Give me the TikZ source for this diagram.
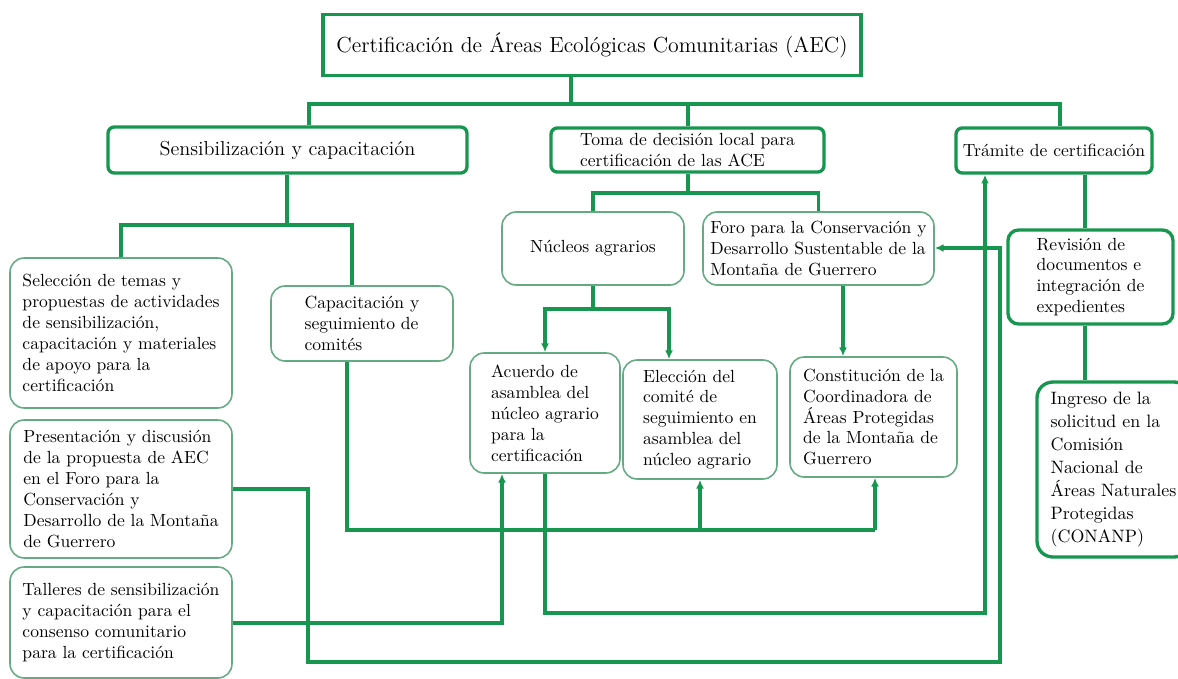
\documentclass[tikz,border=0pt]{standalone}
\usepackage{tikz}
\usetikzlibrary{calc}
\usetikzlibrary{arrows.meta}

\definecolor{lgreen}{RGB}{22,150,78}
\definecolor{bgreen}{RGB}{100,170,130}

\tikzset{
  txt/.style={align=left, inner sep=0pt, font=\fontsize{10}{11.9}\selectfont},
  hdr/.style={txt, draw=lgreen, line width=1.9pt, rounded corners=3.5pt},
  box/.style={txt, draw=bgreen, line width=0.9pt, rounded corners=8pt},
  ln/.style={draw=lgreen, line width=1.8pt},
}

\begin{document}
\begin{tikzpicture}[x=0.02cm, y=-0.02cm, >={Latex[length=5pt,width=4.5pt]}]
  \useasboundingbox (0,0) rectangle (1178,679);

  % top level
  \node [txt, draw=lgreen, line width=2pt, minimum width=10.76cm, minimum height=1.22cm,
         font=\fontsize{12.4}{14}\selectfont] (title) at (592,45)
        {Certificación de Áreas Ecológicas Comunitarias (AEC)};
  \node [hdr, minimum width=7.18cm, minimum height=0.92cm, font=\fontsize{11.5}{13}\selectfont] (sens) at (287.5,150)
        {Sensibilización y capacitación};
  \node [hdr, minimum width=5.46cm, minimum height=0.88cm] (toma) at (687.5,150)
        {Toma de decisión local para\\ certificación de las ACE};
  \node [hdr, minimum width=3.92cm, minimum height=0.9cm] (tram) at (1054,150.5) {Trámite de certificación};

  % sensibilizacion
  \node [box, minimum width=4.44cm, minimum height=3.0cm] (sel) at (121,333)
        {Selección de temas y\\ propuestas de actividades\\ de sensibilización,\\ capacitación y materiales\\ de apoyo para la\\ certificación};
  \node [box, minimum width=3.64cm, minimum height=1.5cm] (capa) at (362,323.5)
        {Capacitación y\\ seguimiento de\\ comités};
  \node [box, minimum width=4.44cm, minimum height=2.76cm] (pres) at (121,489)
        {Presentación y discusión\\ de la propuesta de AEC\\ en el Foro para la\\ Conservación y\\ Desarrollo de la Montaña\\ de Guerrero};
  \node [box, minimum width=4.44cm, minimum height=2.22cm] (tall) at (121,622.5)
        {Talleres de sensibilización\\ y capacitación para el\\ consenso comunitario\\ para la certificación};

  % toma de decision
  \node [box, minimum width=3.64cm, minimum height=1.46cm] (nuc) at (593,248.5) {Núcleos agrarios};
  \node [box, minimum width=4.62cm, minimum height=1.46cm] (foro) at (818.5,248.5)
        {Foro para la Conservación y\\ Desarrollo Sustentable de la\\ Montaña de Guerrero};
  \node [box, minimum width=3.0cm, minimum height=2.4cm] (acu) at (545,413)
        {Acuerdo de\\ asamblea del\\ núcleo agrario\\ para la\\ certificación};
  \node [box, minimum width=3.08cm, minimum height=2.38cm] (ele) at (700,419.5)
        {Elección del\\ comité de\\ seguimiento en\\ asamblea del\\ núcleo agrario};
  \node [box, minimum width=3.34cm, minimum height=2.4cm] (cons) at (873.5,417)
        {Constitución de la\\ Coordinadora de\\ Áreas Protegidas\\ de la Montaña de\\ Guerrero};

  % tramite
  \node [hdr, rounded corners=6pt, minimum width=3.3cm, minimum height=1.88cm] (rev) at (1090.5,277)
        {Revisión de\\ documentos e\\ integración de\\ expedientes};
  \node [hdr, rounded corners=9pt, minimum width=3.06cm, minimum height=3.5cm,
         font=\fontsize{10.2}{13}\selectfont] (ing) at (1113.5,469.5)
        {Ingreso de la\\ solicitud en la\\ Comisión\\ Nacional de\\ Áreas Naturales\\ Protegidas\\ (CONANP)};

  % junctions
  \coordinate (b0) at (571,104);
  \coordinate (b1) at (309,104);
  \coordinate (b2) at (688,104);
  \coordinate (b3) at (1060,104);
  \coordinate (s0) at (287,225);
  \coordinate (s1) at (121,225);
  \coordinate (s2) at (352,225);
  \coordinate (t0) at (688,193);
  \coordinate (n0) at (593,309);
  \coordinate (n1) at (545,309);
  \coordinate (n2) at (669,309);
  \coordinate (f0) at (843,0);
  \coordinate (r0) at (1085,0);
  \coordinate (c0) at (347,530);
  \coordinate (c1) at (700,530);
  \coordinate (c2) at (875,530);
  \coordinate (p0) at (308,489);
  \coordinate (p1) at (308,662);
  \coordinate (p2) at (1000,662);
  \coordinate (p3) at (1000,248);
  \coordinate (q0) at (502,623);
  \coordinate (a0) at (545,613);
  \coordinate (a1) at (985,613);

  \draw [ln] (title.south -| b0) -- (b0);
  \draw [ln] (sens.north -| b1) |- (b3) -- (tram.north -| b3);
  \draw [ln] (b2) -- (toma.north -| b2);

  \draw [ln] (sens.south -| s0) -- (s0);
  \draw [ln] (sel.north -| s1) |- (s2) -- (capa.north -| s2);

  \draw [ln] (toma.south -| t0) -- (t0);
  \draw [ln] (nuc.north) |- (t0) -| (foro.north);

  \draw [ln] (nuc.south) -- (n0);
  \draw [ln, ->] (n0) -| (acu.north -| n1);
  \draw [ln, ->] (n0) -| (ele.north -| n2);
  \draw [ln, ->] (foro.south -| f0) -- (cons.north -| f0);

  \draw [ln] (tram.south -| r0) -- (rev.north -| r0);
  \draw [ln] (rev.south -| r0) -- (ing.north -| r0);

  \draw [ln] (capa.south -| c0) -- (c0) -- (c2);
  \draw [ln, ->] (c1) -- (ele.south -| c1);
  \draw [ln, ->] (c2) -- (cons.south -| c2);

  \draw [ln, ->] (pres.east) -- (p0) -- (p1) -- (p2) -- (p3) -- (foro.east |- p3);
  \draw [ln, ->] (tall.east |- q0) -- (q0) -- (acu.south -| q0);
  \draw [ln, ->] (acu.south -| a0) -- (a0) -- (a1) -- (tram.south -| a1);
\end{tikzpicture}
\end{document}
